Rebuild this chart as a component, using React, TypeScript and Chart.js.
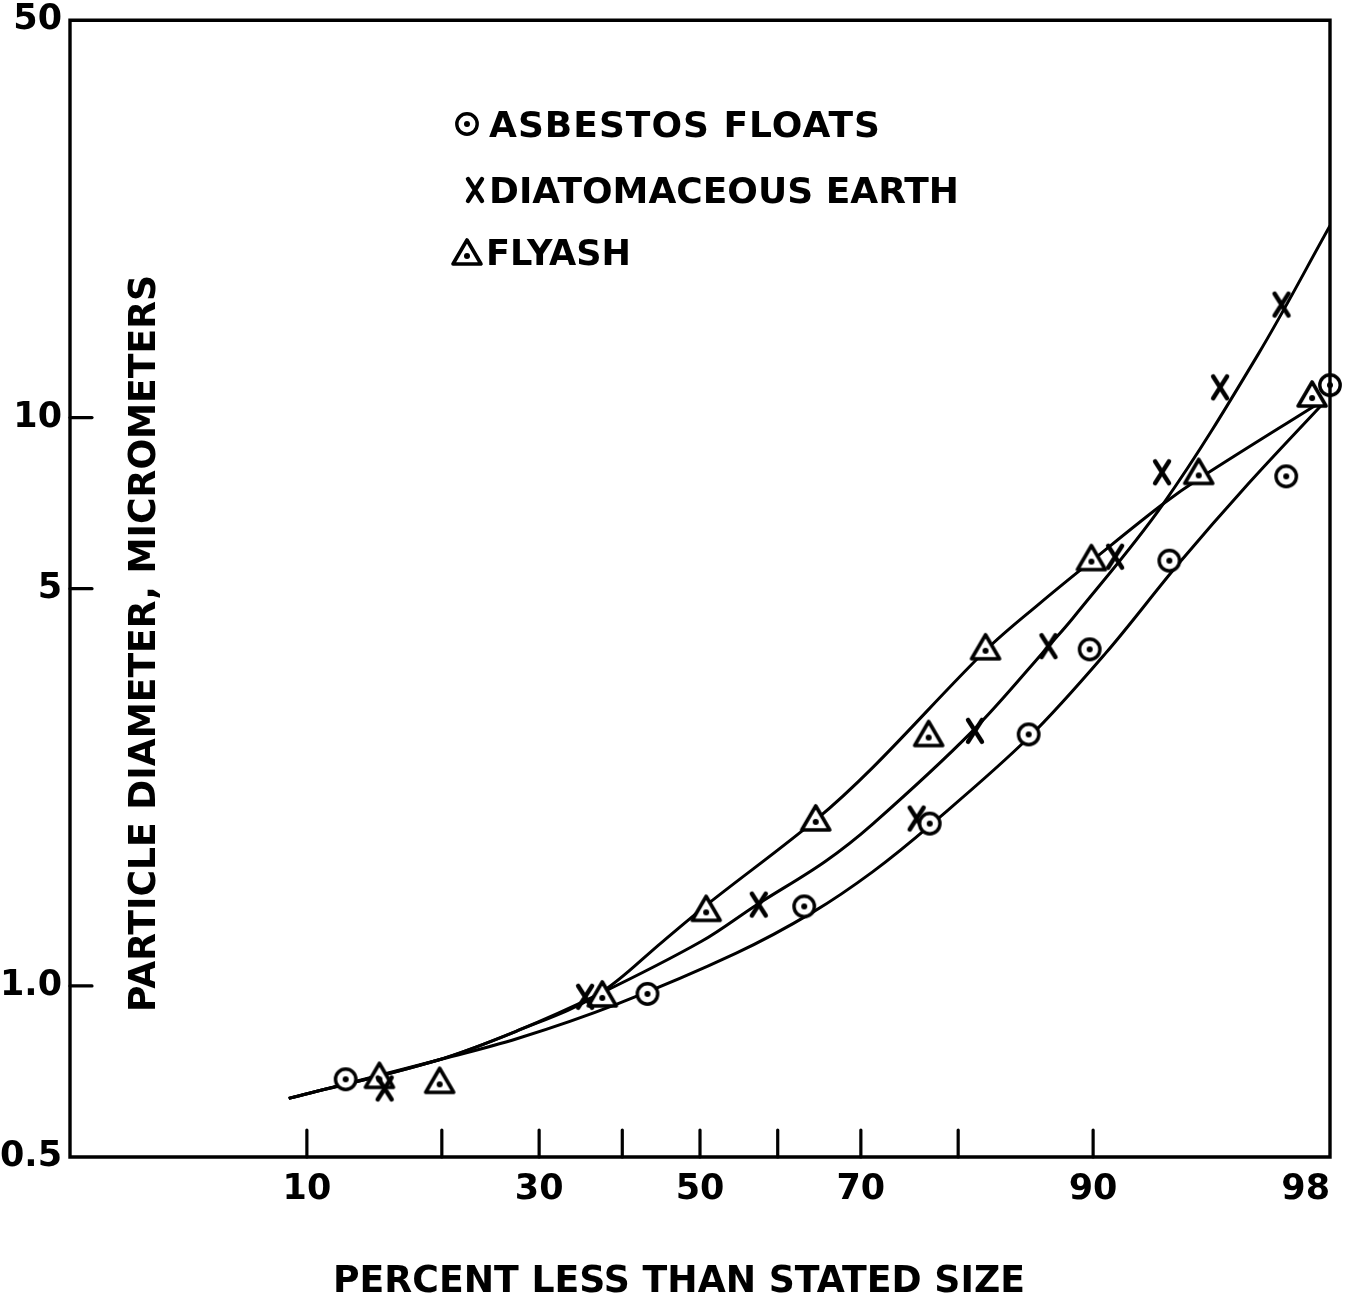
import { useEffect, useRef } from 'react';
import { Chart, registerables } from 'chart.js';

Chart.register(...registerables);

// ---- axis definitions ----
const xMinPercent = 2;
const xMaxPercent = 98;
const xTickPercents = [10, 20, 30, 40, 50, 60, 70, 80, 90, 98];
const xTickLabels = ['10', '', '30', '', '50', '', '70', '', '90', '98'];
const yMin = 0.5;
const yMax = 50;
const yTickValues = [0.5, 1, 5, 10, 50];
const yTickLabels = ['0.5', '1.0', '5', '10', '50'];

// ---- measured points ----
const asbestosPct = [12.4, 43.2, 63.3, 77.3, 85.8, 89.8, 93.7, 97.2, 98.0];
const asbestosSize = [0.685, 0.968, 1.38, 1.93, 2.77, 3.91, 5.6, 7.88, 11.4];
const diatomPct = [15.2, 35.4, 57.6, 76.0, 81.5, 87.2, 91.2, 93.4, 95.5, 97.1];
const diatomSize = [0.66, 0.957, 1.39, 1.97, 2.81, 3.96, 5.69, 8.01, 11.3, 15.8];
const flyashPct = [14.8, 19.8, 37.5, 50.8, 64.7, 77.2, 82.4, 89.9, 94.8, 97.7];
const flyashSize = [0.696, 0.682, 0.968, 1.369, 1.975, 2.78, 3.95, 5.67, 8.04, 11.0];

// ---- fitted curves ----
const asbestosCurvePct = [9.0, 19.6, 27.6, 39.4, 54.7, 64.3, 71.35, 77.4, 85.8, 90.7, 94.06, 96.3, 97.9];
const asbestosCurveSize = [0.634, 0.74, 0.808, 0.93, 1.142, 1.347, 1.589, 1.92, 2.735, 3.85, 5.53, 7.64, 10.62];
const diatomCurvePct = [9.0, 19.6, 27.6, 36.9, 50.2, 57.4, 65.8, 71.35, 81.3, 87.2, 88.8, 93.45, 96.55, 98.0];
const diatomCurveSize = [0.634, 0.74, 0.834, 0.964, 1.198, 1.391, 1.654, 1.928, 2.81, 3.96, 4.44, 7.05, 12.89, 21.75];
const flyashCurvePct = [9.0, 19.6, 27.6, 36.9, 45.2, 50.8, 64.7, 71.35, 82.45, 86.6, 90.0, 93.45, 94.9, 97.83];
const flyashCurveSize = [0.634, 0.74, 0.834, 0.964, 1.198, 1.386, 1.959, 2.424, 3.9, 4.71, 5.62, 7.05, 7.86, 10.62];

const legendLabels = ['ASBESTOS FLOATS', 'DIATOMACEOUS EARTH', 'FLYASH'];
const xTitle = 'PERCENT LESS THAN STATED SIZE';
const yTitle = 'PARTICLE DIAMETER, MICROMETERS';

// inverse normal CDF (probability-paper axis)
function probit(pct: number): number {
  const p = pct / 100;
  const a = [-3.969683028665376e1, 2.209460984245205e2, -2.759285104469687e2, 1.38357751867269e2, -3.066479806614716e1, 2.506628277459239];
  const b = [-5.447609879822406e1, 1.615858368580409e2, -1.556989798598866e2, 6.680131188771972e1, -1.328068155288572e1];
  const c = [-7.784894002430293e-3, -3.223964580411365e-1, -2.400758277161838, -2.549732539343734, 4.374664141464968, 2.938163982698783];
  const d = [7.784695709041462e-3, 3.224671290700398e-1, 2.445134137142996, 3.754408661907416];
  const plow = 0.02425;
  if (p < plow) {
    const q = Math.sqrt(-2 * Math.log(p));
    return (((((c[0] * q + c[1]) * q + c[2]) * q + c[3]) * q + c[4]) * q + c[5]) / ((((d[0] * q + d[1]) * q + d[2]) * q + d[3]) * q + 1);
  }
  if (p > 1 - plow) {
    const q = Math.sqrt(-2 * Math.log(1 - p));
    return -(((((c[0] * q + c[1]) * q + c[2]) * q + c[3]) * q + c[4]) * q + c[5]) / ((((d[0] * q + d[1]) * q + d[2]) * q + d[3]) * q + 1);
  }
  const q = p - 0.5;
  const r = q * q;
  return ((((((a[0] * r + a[1]) * r + a[2]) * r + a[3]) * r + a[4]) * r + a[5]) * q) / (((((b[0] * r + b[1]) * r + b[2]) * r + b[3]) * r + b[4]) * r + 1);
}

const toPoints = (pcts: number[], sizes: number[]) => pcts.map((p, i) => ({ x: probit(p), y: sizes[i] }));

function makeCircleDot() {
  const c = document.createElement('canvas');
  c.width = 28; c.height = 28;
  const g = c.getContext('2d')!;
  g.beginPath(); g.arc(14, 14, 10.2, 0, Math.PI * 2);
  g.fillStyle = '#fff'; g.fill();
  g.lineWidth = 3.4; g.strokeStyle = '#000'; g.stroke();
  g.beginPath(); g.arc(14, 14, 3, 0, Math.PI * 2);
  g.fillStyle = '#000'; g.fill();
  return c;
}
function makeTriangleDot() {
  const c = document.createElement('canvas');
  c.width = 34; c.height = 30;
  const g = c.getContext('2d')!;
  g.beginPath(); g.moveTo(17, 3); g.lineTo(31, 27); g.lineTo(3, 27); g.closePath();
  g.fillStyle = '#fff'; g.fill();
  g.lineWidth = 3.6; g.lineJoin = 'round'; g.strokeStyle = '#000'; g.stroke();
  g.beginPath(); g.arc(17, 19, 3, 0, Math.PI * 2);
  g.fillStyle = '#000'; g.fill();
  return c;
}
function makeX() {
  const c = document.createElement('canvas');
  c.width = 26; c.height = 30;
  const g = c.getContext('2d')!;
  g.lineWidth = 4.4; g.lineCap = 'round'; g.strokeStyle = '#000';
  g.beginPath(); g.moveTo(6, 4); g.lineTo(20, 26); g.moveTo(20, 4); g.lineTo(6, 26); g.stroke();
  return c;
}

const FONT = '"DejaVu Sans", "Liberation Sans", sans-serif';

function drawFitted(ctx: CanvasRenderingContext2D, text: string, x: number, y: number, width: number, size: number) {
  ctx.save();
  ctx.font = `bold ${size}px ${FONT}`;
  (ctx as any).letterSpacing = '0px';
  ctx.textAlign = 'left';
  ctx.textBaseline = 'alphabetic';
  ctx.fillStyle = '#000';
  const w = ctx.measureText(text).width;
  const sp = (width - w) / (text.length - 1);
  if (sp >= 0) {
    (ctx as any).letterSpacing = `${sp}px`;
    ctx.fillText(text, x, y);
  } else {
    ctx.translate(x, y);
    ctx.scale(width / w, 1);
    ctx.fillText(text, 0, 0);
  }
  ctx.restore();
}

export default function App() {
  const ref = useRef<HTMLCanvasElement>(null);

  useEffect(() => {
    document.body.style.margin = '0';
    const circleDot = makeCircleDot();
    const triDot = makeTriangleDot();
    const xMark = makeX();

    const decor = {
      id: 'decor',
      afterDraw(chart: any) {
        const { ctx, chartArea } = chart;
        const { left, right, top, bottom } = chartArea;
        const xs = chart.scales.x;
        const ys = chart.scales.y;
        ctx.save();
        ctx.strokeStyle = '#000';
        ctx.lineWidth = 3.4;
        ctx.lineCap = 'square';
        ctx.beginPath();
        ctx.moveTo(left, top); ctx.lineTo(right, top); ctx.lineTo(right, bottom);
        ctx.lineTo(left, bottom); ctx.closePath();
        ctx.stroke();
        ctx.lineCap = 'round';
        ctx.lineWidth = 3.2;
        xTickPercents.forEach((p) => {
          if (p === xMaxPercent) return;
          const px = xs.getPixelForValue(probit(p));
          ctx.beginPath(); ctx.moveTo(px, bottom); ctx.lineTo(px, bottom - 27); ctx.stroke();
        });
        yTickValues.forEach((v) => {
          if (v === yMin || v === yMax) return;
          const py = ys.getPixelForValue(v);
          ctx.beginPath(); ctx.moveTo(left, py); ctx.lineTo(left + 22, py); ctx.stroke();
        });
        // legend
        const marks = [circleDot, xMark, triDot];
        const mpos = [[467, 124], [475, 190], [467, 252]];
        const tpos = [[489, 137, 391], [489, 203, 470], [486, 265, 145]];
        marks.forEach((m, i) => {
          ctx.drawImage(m, mpos[i][0] - m.width / 2, mpos[i][1] - m.height / 2);
          drawFitted(ctx, legendLabels[i], tpos[i][0], tpos[i][1], tpos[i][2], 36);
        });
        // axis titles
        drawFitted(ctx, xTitle, 333, 1292, 692, 38);
        ctx.save();
        ctx.translate(155, 1012);
        ctx.rotate(-Math.PI / 2);
        drawFitted(ctx, yTitle, 0, 0, 737, 38);
        ctx.restore();
        ctx.restore();
      },
    };

    const tickFont = { family: FONT, size: 35, weight: 'bold' as const, lineHeight: 0.7 };

    const curveStyle = { borderColor: '#000', borderWidth: 3, pointRadius: 0, tension: 0.35, fill: false };

    const chart = new Chart(ref.current!, {
      type: 'line',
      data: {
        datasets: [
          { label: legendLabels[0], data: toPoints(asbestosPct, asbestosSize), showLine: false, pointStyle: circleDot as any, pointRadius: 14, borderColor: '#000', clip: false as any },
          { label: legendLabels[1], data: toPoints(diatomPct, diatomSize), showLine: false, pointStyle: xMark as any, pointRadius: 14, borderColor: '#000', clip: false as any },
          { label: legendLabels[2], data: toPoints(flyashPct, flyashSize), showLine: false, pointStyle: triDot as any, pointRadius: 14, borderColor: '#000', clip: false as any },
          { label: 'asbestos fit', data: toPoints(asbestosCurvePct, asbestosCurveSize), ...curveStyle },
          { label: 'diatom fit', data: toPoints(diatomCurvePct, diatomCurveSize), ...curveStyle },
          { label: 'flyash fit', data: toPoints(flyashCurvePct, flyashCurveSize), ...curveStyle },
        ],
      },
      options: {
        animation: false,
        responsive: false,
        devicePixelRatio: 1,
        layout: { padding: { top: 13, right: 21, left: 0, bottom: 0 } },
        plugins: { legend: { display: false }, tooltip: { enabled: false } },
        scales: {
          x: {
            type: 'linear',
            min: probit(xMinPercent),
            max: probit(xMaxPercent),
            bounds: 'data',
            grid: { display: false, drawTicks: false },
            border: { display: false },
            afterBuildTicks: (scale: any) => {
              scale.ticks = [xMinPercent, ...xTickPercents].map((p) => ({ value: probit(p) }));
            },
            afterFit: (scale: any) => { scale.height = 139; },
            ticks: {
              autoSkip: false,
              maxRotation: 0,
              minRotation: 0,
              align: 'inner',
              padding: 21,
              color: '#000',
              font: tickFont,
              callback: (_v: any, i: number) => (i === 0 ? '' : xTickLabels[i - 1]),
            },
          },
          y: {
            type: 'logarithmic',
            min: yMin,
            max: yMax,
            grid: { display: false, drawTicks: false },
            border: { display: false },
            afterBuildTicks: (scale: any) => {
              scale.ticks = yTickValues.map((v) => ({ value: v }));
            },
            afterFit: (scale: any) => { scale.width = 70; },
            ticks: {
              autoSkip: false,
              padding: 8,
              color: '#000',
              font: tickFont,
              callback: (_v: any, i: number) => yTickLabels[i],
            },
          },
        },
      },
      plugins: [decor],
    } as any);
    return () => chart.destroy();
  }, []);

  return (
    <div style={{ width: 1351, height: 1296, background: '#fff' }}>
      <canvas ref={ref} width={1351} height={1296} style={{ display: 'block' }} />
    </div>
  );
}
